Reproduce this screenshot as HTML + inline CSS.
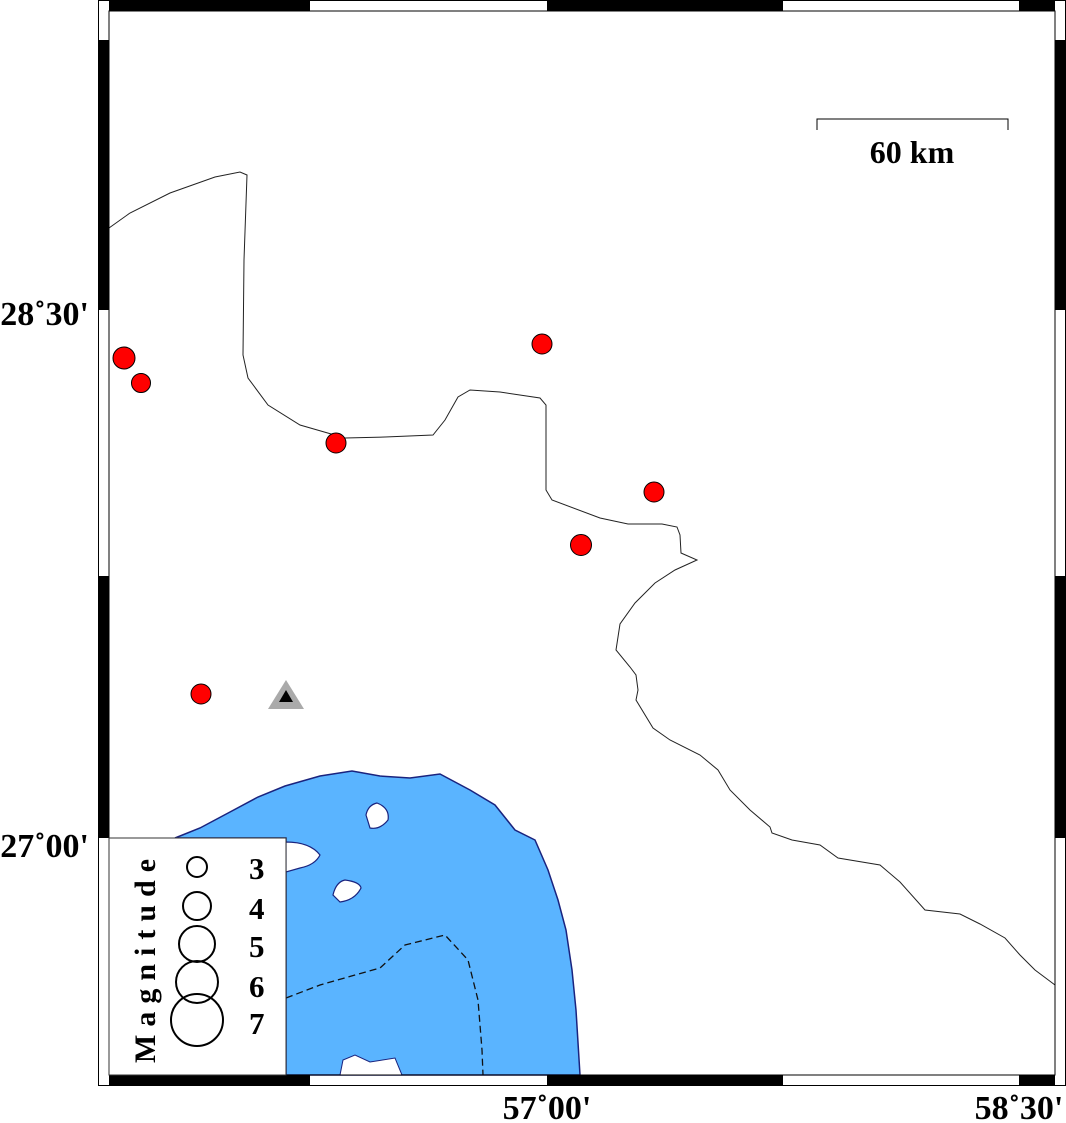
<!DOCTYPE html>
<html><head><meta charset="utf-8"><style>
html,body{margin:0;padding:0;background:#fff;}
svg{display:block;}
text{font-family:"Liberation Serif",serif;font-weight:bold;fill:#000;}
</style></head><body>
<svg width="1066" height="1123" viewBox="0 0 1066 1123" xmlns="http://www.w3.org/2000/svg">
<path d="M175,838 L200,828 L230,812 L258,797 L285,786 L320,776 L352,771 L380,776 L410,778 L440,774 L470,790 L495,805 L515,830 L535,840 L548,870 L558,900 L566,930 L572,970 L576,1010 L580,1075 L286,1075 L286,838 Z" fill="#5ab4ff" stroke="#1a237e" stroke-width="1.5"/>
<path d="M366,815 Q368,805 377,803 Q390,808 388,820 Q380,830 370,828 Z" fill="#fff" stroke="#1a237e" stroke-width="1.2"/>
<path d="M333,895 Q336,882 345,880 Q360,882 361,888 Q355,900 340,902 Z" fill="#fff" stroke="#1a237e" stroke-width="1.2"/>
<path d="M286,842 Q310,842 320,855 Q315,865 300,868 L286,872 Z" fill="#fff" stroke="#1a237e" stroke-width="1.2"/>
<path d="M340,1075 L343,1060 L355,1055 L370,1062 L395,1058 L402,1075 Z" fill="#fff" stroke="#1a237e" stroke-width="1"/>
<path d="M286,998 L320,985 L355,975 L380,968 L405,945 L445,935 L468,960 L478,1000 L482,1050 L483,1075" fill="none" stroke="#111" stroke-width="1.3" stroke-dasharray="7,4"/>
<path d="M109,228 L130,213 L170,193 L215,177 L240,172 L247,175 L244,260 L243,355 L248,378 L268,405 L300,425 L345,438 L385,437 L433,435 L445,420 L458,397 L470,390 L500,392 L540,398 L546,405 L546,490 L552,500 L600,518 L628,524 L662,524 L677,527 L680,535 L681,553 L697,560 L675,570 L655,583 L635,603 L620,624 L616,650 L630,667 L636,675 L638,690 L636,700 L653,728 L670,740 L700,755 L718,770 L730,790 L750,810 L770,827 L772,833 L792,840 L820,845 L838,858 L880,865 L900,882 L925,910 L960,914 L980,924 L1005,938 L1020,955 L1035,970 L1055,985" fill="none" stroke="#222" stroke-width="1"/>
<rect x="98.5" y="0.5" width="967" height="1085" fill="none" stroke="#000" stroke-width="1"/>
<rect x="109" y="11" width="946" height="1064" fill="none" stroke="#000" stroke-width="1"/>
<rect x="109" y="1" width="201" height="10" fill="#000"/>
<rect x="547" y="1" width="236" height="10" fill="#000"/>
<rect x="1019" y="1" width="36" height="10" fill="#000"/>
<rect x="109" y="1075" width="201" height="10" fill="#000"/>
<rect x="547" y="1075" width="236" height="10" fill="#000"/>
<rect x="1019" y="1075" width="36" height="10" fill="#000"/>
<rect x="99" y="40" width="10" height="270" fill="#000"/>
<rect x="99" y="576" width="10" height="262" fill="#000"/>
<rect x="1055" y="40" width="10" height="270" fill="#000"/>
<rect x="1055" y="576" width="10" height="262" fill="#000"/>
<path d="M817,130 L817,119 L1008,119 L1008,130" fill="none" stroke="#000" stroke-width="1"/>
<text x="912" y="163" font-size="32" text-anchor="middle">60 km</text>
<g fill="#ff0000" stroke="#000" stroke-width="1">
<circle cx="124" cy="358" r="11"/>
<circle cx="141" cy="383" r="9.5"/>
<circle cx="336" cy="443" r="10"/>
<circle cx="542" cy="344" r="10"/>
<circle cx="654" cy="492" r="10"/>
<circle cx="581" cy="545" r="10.5"/>
<circle cx="201" cy="694" r="10"/>
</g>
<polygon points="286,680 304,709 268,709" fill="#aaa"/>
<polygon points="286,690 293,702 279,702" fill="#000"/>
<rect x="109" y="838" width="177" height="237" fill="#fff" stroke="#333" stroke-width="1"/>
<text transform="translate(155,957) rotate(-90)" font-size="30" text-anchor="middle" letter-spacing="8">Magnitude</text>
<g fill="none" stroke="#000" stroke-width="2">
<circle cx="197" cy="867" r="10"/>
<circle cx="197" cy="906" r="14"/>
<circle cx="197" cy="944" r="18"/>
<circle cx="197" cy="982" r="21"/>
<circle cx="197" cy="1020" r="26"/>
</g>
<g font-size="31">
<text x="249" y="879">3</text>
<text x="249" y="919">4</text>
<text x="249" y="957">5</text>
<text x="249" y="997">6</text>
<text x="249" y="1034">7</text>
</g>
<text x="89" y="325" font-size="34" text-anchor="end">28˚30'</text>
<text x="89" y="857" font-size="34" text-anchor="end">27˚00'</text>
<text x="547" y="1119" font-size="34" text-anchor="middle">57˚00'</text>
<text x="1019" y="1119" font-size="34" text-anchor="middle">58˚30'</text>
</svg>
</body></html>
